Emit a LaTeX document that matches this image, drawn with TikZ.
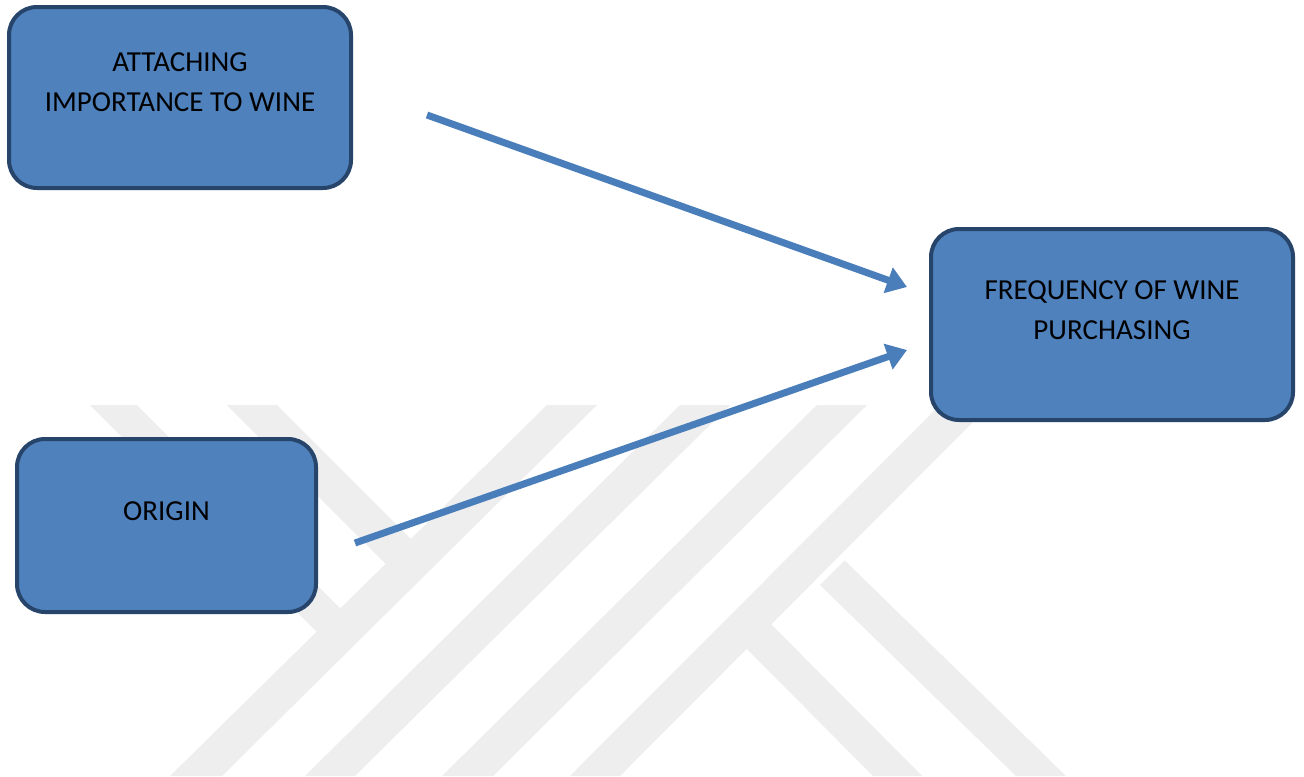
\documentclass[tikz,border=0pt]{standalone}
\usepackage{fontspec}
\setmainfont{Carlito}
\usetikzlibrary{arrows.meta}
\definecolor{boxfill}{HTML}{4F81BD}
\definecolor{boxline}{HTML}{27446A}
\definecolor{arrowblue}{HTML}{4A7EBB}
\definecolor{markgray}{HTML}{EEEEEE}
\begin{document}
\begin{tikzpicture}[x=0.5pt,y=-0.5pt,
  box/.style={draw=boxline, line width=2pt, fill=boxfill, rounded corners=14pt, inner sep=0pt},
  lbl/.style={font=\fontsize{14.5pt}{20pt}\selectfont, align=center, inner sep=0pt, text=black},
  link/.style={draw=arrowblue, line width=3.5pt, -{Triangle[length=10pt,width=13pt]}},
  wmark/.style={fill=markgray}]
  % page area
  \fill[white] (0,0) rectangle (1304,776);
  \useasboundingbox (0,0) rectangle (1304,776);

  % faint background emblem made of diagonal bands
  \fill[wmark] (90,405) -- (137,405) -- (356,624) -- (332,647) -- cycle;
  \fill[wmark] (227,405) -- (277,405) -- (427,555) -- (401,579) -- cycle;
  \fill[wmark] (547,405) -- (597,405) -- (222,776) -- (170,776) -- cycle;
  \fill[wmark] (680,405) -- (730,405) -- (355,776) -- (305,776) -- cycle;
  \fill[wmark] (817,405) -- (867,405) -- (493,776) -- (442,776) -- cycle;
  \fill[wmark] (940,405) -- (990,405) -- (620,776) -- (570,776) -- cycle;
  \fill[wmark] (734,636) -- (758.5,611.5) -- (922,776) -- (873,776) -- cycle;
  \fill[wmark] (820,585) -- (844.6,560.4) -- (1066,776) -- (1016,776) -- cycle;

  % boxes
  \node[box, minimum width=171pt, minimum height=90.5pt] (att) at (180,97.5) {};
  \node[lbl] (attT) at (180,82) {ATTACHING\\IMPORTANCE TO WINE};

  \node[box, minimum width=181pt, minimum height=95.5pt] (freq) at (1112,324.5) {};
  \node[lbl] (freqT) at (1112,310) {FREQUENCY OF WINE\\PURCHASING};

  \node[box, minimum width=149.5pt, minimum height=86.5pt] (orig) at (166.5,525.5) {};
  \node[lbl] (origT) at (166.5,511.5) {ORIGIN};

  % arrow end points
  \coordinate (a1s) at (427,115);
  \coordinate (a1e) at (907,287);
  \coordinate (a2s) at (355,543);
  \coordinate (a2e) at (907,350);

  \draw[link] (a1s) -- (a1e);
  \draw[link] (a2s) -- (a2e);
\end{tikzpicture}
\end{document}
